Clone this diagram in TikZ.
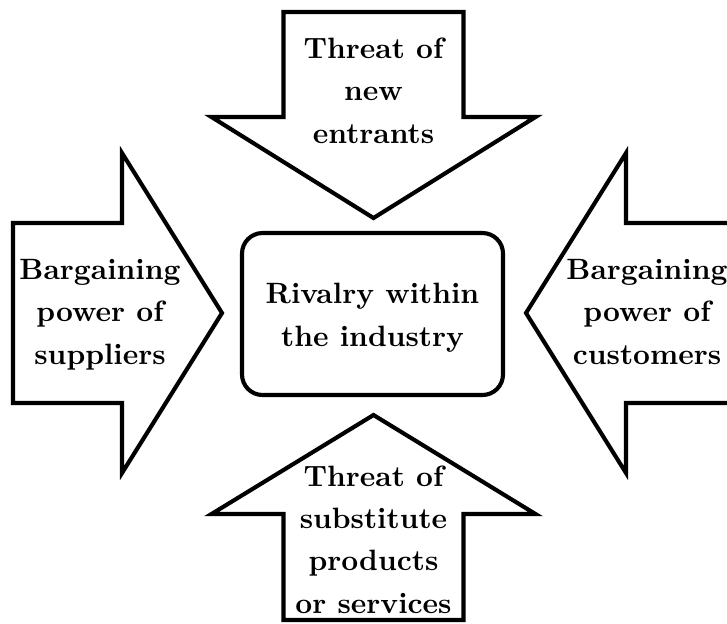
\documentclass[tikz,border=0pt]{standalone}
\begin{document}
\begin{tikzpicture}[x=0.34pt,y=-0.34pt,
  arrowshape/.style={draw=black, line width=1.4pt, fill=white, line join=miter},
  label/.style={font=\bfseries\fontsize{10pt}{14.3pt}\selectfont, align=center, anchor=base, inner sep=0pt},
  centerbox/.style={draw=black, line width=1.4pt, rounded corners=7pt, fill=white, inner sep=0pt, minimum width=261*0.34pt, minimum height=162*0.34pt}]
\useasboundingbox (0,0) rectangle (727,623);
\clip (0,0) rectangle (727,623);
% top arrow
\draw[arrowshape] (283.5,12) -- (463.5,12) -- (463.5,117) -- (535.5,117) -- (373.5,218) -- (211.5,117) -- (283.5,117) -- cycle;
% left arrow
\draw[arrowshape] (13,223) -- (122,223) -- (122,153) -- (222,313) -- (122,473) -- (122,403) -- (13,403) -- cycle;
% right arrow
\draw[arrowshape] (760,223) -- (626,223) -- (626,153) -- (526,313) -- (626,473) -- (626,403) -- (760,403) -- cycle;
% bottom arrow
\draw[arrowshape] (373.5,415) -- (535.5,514) -- (463.5,514) -- (463.5,620) -- (283.5,620) -- (283.5,514) -- (211.5,514) -- cycle;
% center box
\node[centerbox] (rivalrybox) at (372.5,314) {};
\node[label] (rivalry) at (372.5,346) {Rivalry within\\the industry};
\node[label] (entrants) at (373.5,143) {Threat of\\new\\entrants};
\node[label] (suppliers) at (100,364) {Bargaining\\power of\\suppliers};
\node[label] (customers) at (647,364) {Bargaining\\power of\\customers};
\node[label] (substitutes) at (373.5,613) {Threat of\\substitute\\products\\or services};
\end{tikzpicture}
\end{document}
